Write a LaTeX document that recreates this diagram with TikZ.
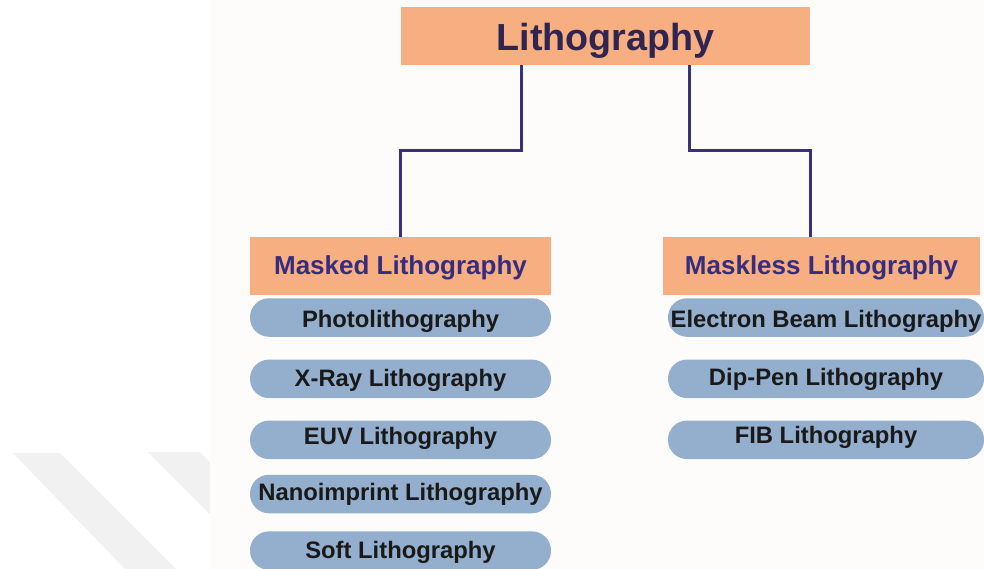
\documentclass[tikz,border=0pt]{standalone}
\usepackage{fontspec}
\setmainfont{Liberation Sans}
\usepackage{tikz}
\definecolor{headbg}{HTML}{F7AE80}
\definecolor{pillbg}{HTML}{93AFCD}
\definecolor{titleink}{HTML}{2F2550}
\definecolor{headink}{HTML}{372D7E}
\definecolor{linkink}{HTML}{3A2E7E}
\definecolor{paperbg}{HTML}{FEFCFA}
\definecolor{markgray}{HTML}{F1F1F1}

\begin{document}
\begin{tikzpicture}[
  x=1pt, y=-1pt,
  head/.style={fill=headbg, minimum height=58pt, inner sep=0pt, text height=16pt, text depth=0pt, font=\bfseries\fontsize{26}{28}\selectfont, text=headink},
  pill/.style={fill=pillbg, rounded corners=19pt, minimum height=38.5pt, inner sep=0pt, text height=16pt, text depth=0pt, font=\bfseries\fontsize{23.8}{25}\selectfont, text=black!90},
  link/.style={line width=3pt, linkink},
]
\useasboundingbox (0,0) rectangle (984,569);

% ── Page and faint watermark ──
\fill[white] (0,0) rectangle (984,569);
\fill[markgray] (13,453) -- (60,453) -- (176,569) -- (125,569) -- cycle;
\fill[markgray] (148,452) -- (200,452) -- (317,569) -- (265,569) -- cycle;
\fill[paperbg] (210,0) rectangle (984,569);

% ── Root ──
\node[head, minimum width=409pt, text height=30pt, text=titleink, font=\bfseries\fontsize{37.7}{40}\selectfont] (root) at (605.5,36) {Lithography};

% ── Branches ──
\node[head, minimum width=301pt] (masked) at (400.5,266) {Masked Lithography};
\node[head, minimum width=317pt] (maskless) at (821.5,266) {Maskless Lithography};

% ── Masked methods ──
\node[pill, minimum width=301pt, text height=20pt] (photo) at (400.5,317.5) {Photolithography};
\node[pill, minimum width=301pt] (xray) at (400.5,378.8) {X-Ray Lithography};
\node[pill, minimum width=301pt, text height=9pt] (euv) at (400.5,439.8) {EUV Lithography};
\node[pill, minimum width=301pt, text height=13pt] (nano) at (400.5,494) {Nanoimprint Lithography};
\node[pill, minimum width=301pt] (soft) at (400.5,550.6) {Soft Lithography};

% ── Maskless methods ──
\node[pill, minimum width=316pt, text height=20pt] (ebeam) at (826,317.5) {Electron Beam Lithography};
\node[pill, minimum width=316pt, text height=13pt] (dippen) at (826,378.8) {Dip-Pen Lithography};
\node[pill, minimum width=316pt, text height=7pt] (fib) at (826,439.8) {FIB Lithography};

% ── Connectors ──
\draw[link] ([xshift=-84pt]root.south) -- ++(0,85) -| (masked.north);
\draw[link] ([xshift=83.5pt]root.south) -- ++(0,85) -| ([xshift=-11pt]maskless.north);

\end{tikzpicture}
\end{document}
